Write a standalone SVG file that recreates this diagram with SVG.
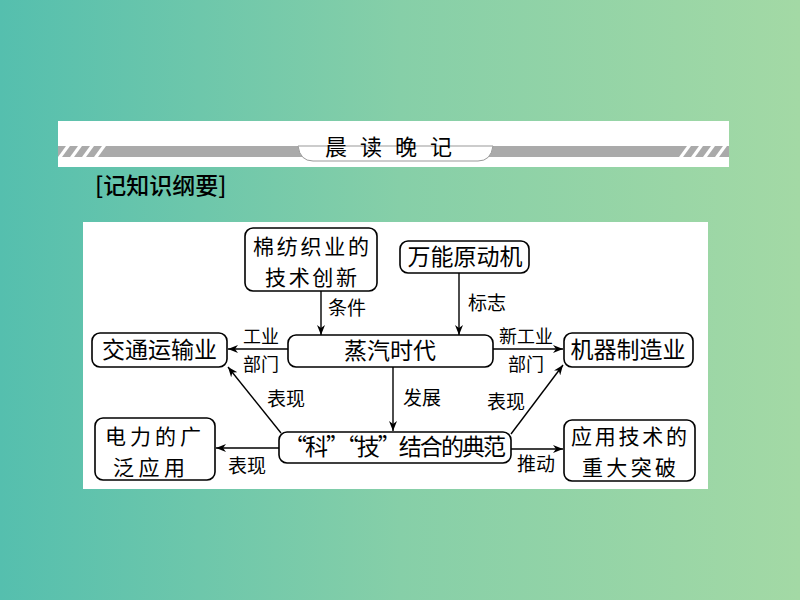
<svg xmlns="http://www.w3.org/2000/svg" width="800" height="600" viewBox="0 0 800 600">
<defs>
<linearGradient id="bg" x1="0" y1="0" x2="1" y2="0">
<stop offset="0" stop-color="#55bfae"/>
<stop offset="0.5" stop-color="#86cfa8"/>
<stop offset="1" stop-color="#a3d9a5"/>
</linearGradient>
<marker id="ah" viewBox="0 0 10 8" refX="10" refY="4" markerWidth="10" markerHeight="8" markerUnits="userSpaceOnUse" orient="auto">
<path d="M0,0 L10,4 L0,8 L3,4 z" fill="#000"/>
</marker>
<style>
.box{fill:#fff;stroke:#000;stroke-width:1.6}
.t{font-family:"Noto Sans CJK SC","Noto Sans CJK JP",sans-serif;font-size:23px;fill:#000;text-anchor:middle}
.t2{font-family:"Noto Sans CJK SC","Noto Sans CJK JP",sans-serif;font-size:21px;fill:#000;text-anchor:middle}
.l{font-family:"Noto Sans CJK SC","Noto Sans CJK JP",sans-serif;font-size:19px;fill:#000;text-anchor:middle}
.ls{font-family:"Noto Sans CJK SC","Noto Sans CJK JP",sans-serif;font-size:18px;fill:#000;text-anchor:middle}
.c{fill:none;stroke:#000;stroke-width:1.4;marker-end:url(#ah)}
</style>
</defs>
<rect x="0" y="0" width="800" height="600" fill="url(#bg)"/>
<g id="banner">
<rect x="58" y="121" width="671" height="46" fill="#fff"/>
<rect x="58" y="146" width="671" height="11" fill="#aaaaaa"/>
<g fill="#fff">
<polygon points="58,157 66,146 70,146 62,157"/>
<polygon points="70,157 78,146 82,146 74,157"/>
<polygon points="82,157 90,146 94,146 86,157"/>
<polygon points="94,157 102,146 106,146 98,157"/>
<polygon points="679,157 687,146 691,146 683,157"/>
<polygon points="691,157 699,146 703,146 695,157"/>
<polygon points="703,157 711,146 715,146 707,157"/>
<polygon points="715,157 723,146 727,146 719,157"/>
</g>
<path d="M298,146 L493,146 Q491,161 478,161 L313,161 Q300,161 298,146 z" fill="#fff" stroke="#999" stroke-width="1"/>
<text x="395" y="155" font-family="'Noto Sans CJK SC',sans-serif" font-size="22" text-anchor="middle" letter-spacing="13" fill="#000">晨读晚记</text>
</g>
<text x="95" y="194" font-family="'Noto Sans CJK SC',sans-serif" font-size="23" font-weight="500" fill="#000">[记知识纲要]</text>
<rect x="83" y="222" width="625" height="267" fill="#fff"/>
<g id="connectors">
<line class="c" x1="321" y1="291" x2="321" y2="335"/>
<line class="c" x1="459" y1="273" x2="459" y2="335"/>
<line class="c" x1="288" y1="349" x2="228" y2="349"/>
<line class="c" x1="493" y1="349" x2="563" y2="349"/>
<line class="c" x1="393" y1="367" x2="393" y2="431"/>
<line class="c" x1="281" y1="433" x2="228" y2="367"/>
<line class="c" x1="511" y1="434" x2="563" y2="365"/>
<line class="c" x1="279" y1="448" x2="216" y2="448"/>
<line class="c" x1="511" y1="449" x2="563" y2="449"/>
<text class="l" x="347" y="315">条件</text>
<text class="l" x="487" y="310">标志</text>
<text class="ls" x="261" y="343">工业</text>
<text class="ls" x="261" y="371">部门</text>
<text class="ls" x="526" y="343">新工业</text>
<text class="ls" x="526" y="371">部门</text>
<text class="l" x="422" y="405">发展</text>
<text class="l" x="286" y="406">表现</text>
<text class="l" x="506" y="409">表现</text>
<text class="l" x="247" y="473">表现</text>
<text class="l" x="536" y="471">推动</text>
</g>
<g id="n-cotton">
<rect class="box" x="245" y="228" width="132" height="63" rx="8"/>
<text class="t2" x="311" y="254" textLength="116" lengthAdjust="spacing">棉纺织业的</text>
<text class="t2" x="311" y="285" textLength="92" lengthAdjust="spacing">技术创新</text>
</g>
<g id="n-engine">
<rect class="box" x="400" y="241" width="129" height="32" rx="8"/>
<text class="t" x="465" y="265">万能原动机</text>
</g>
<g id="n-transport">
<rect class="box" x="92" y="333" width="135" height="34" rx="8"/>
<text class="t" x="159.5" y="358">交通运输业</text>
</g>
<g id="n-steam">
<rect class="box" x="288" y="335" width="205" height="32" rx="8"/>
<text class="t" x="390" y="359">蒸汽时代</text>
</g>
<g id="n-machine">
<rect class="box" x="564" y="333" width="129" height="34" rx="8"/>
<text class="t" x="628" y="358">机器制造业</text>
</g>
<g id="n-electric">
<rect class="box" x="95" y="418" width="120" height="62" rx="8"/>
<text class="t2" x="153" y="444" textLength="96" lengthAdjust="spacing">电力的广</text>
<text class="t2" x="149" y="475" textLength="72" lengthAdjust="spacing">泛应用</text>
</g>
<g id="n-scitech">
<rect class="box" x="279" y="432" width="232" height="31" rx="8"/>
<text class="t" x="395" y="455" textLength="222" lengthAdjust="spacing">“科”“技”结合的典范</text>
</g>
<g id="n-applied">
<rect class="box" x="564" y="420" width="131" height="61" rx="8"/>
<text class="t2" x="629" y="444" textLength="116" lengthAdjust="spacing">应用技术的</text>
<text class="t2" x="629" y="475" textLength="94" lengthAdjust="spacing">重大突破</text>
</g>
</svg>
